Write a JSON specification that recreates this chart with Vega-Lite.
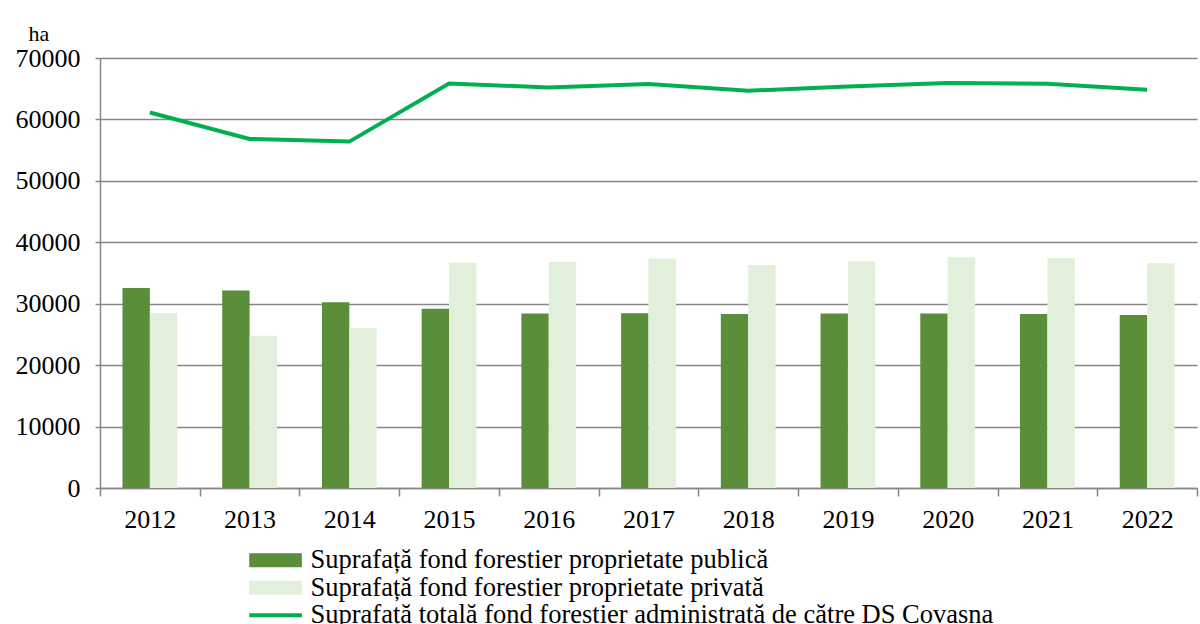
{
  "$schema": "https://vega.github.io/schema/vega-lite/v6.json",
  "width": 1097,
  "height": 430,
  "autosize": {"type": "none"},
  "padding": {"left": 100, "top": 58, "right": 3, "bottom": 136},
  "background": "#ffffff",
  "config": {
    "view": {"stroke": null},
    "font": "Liberation Serif",
    "legend": {"labelFont": "Liberation Serif", "labelFontSize": 26.5, "labelColor": "#000000"}
  },
  "data": {
    "values": [
      {"year": "2012", "series": "Suprafață fond forestier proprietate publică", "value": 32570},
      {"year": "2013", "series": "Suprafață fond forestier proprietate publică", "value": 32140},
      {"year": "2014", "series": "Suprafață fond forestier proprietate publică", "value": 30230},
      {"year": "2015", "series": "Suprafață fond forestier proprietate publică", "value": 29200},
      {"year": "2016", "series": "Suprafață fond forestier proprietate publică", "value": 28390},
      {"year": "2017", "series": "Suprafață fond forestier proprietate publică", "value": 28440},
      {"year": "2018", "series": "Suprafață fond forestier proprietate publică", "value": 28330},
      {"year": "2019", "series": "Suprafață fond forestier proprietate publică", "value": 28390},
      {"year": "2020", "series": "Suprafață fond forestier proprietate publică", "value": 28390},
      {"year": "2021", "series": "Suprafață fond forestier proprietate publică", "value": 28330},
      {"year": "2022", "series": "Suprafață fond forestier proprietate publică", "value": 28160},
      {"year": "2012", "series": "Suprafață fond forestier proprietate privată", "value": 28490},
      {"year": "2013", "series": "Suprafață fond forestier proprietate privată", "value": 24800},
      {"year": "2014", "series": "Suprafață fond forestier proprietate privată", "value": 26040},
      {"year": "2015", "series": "Suprafață fond forestier proprietate privată", "value": 36650},
      {"year": "2016", "series": "Suprafață fond forestier proprietate privată", "value": 36810},
      {"year": "2017", "series": "Suprafață fond forestier proprietate privată", "value": 37360},
      {"year": "2018", "series": "Suprafață fond forestier proprietate privată", "value": 36320},
      {"year": "2019", "series": "Suprafață fond forestier proprietate privată", "value": 36920},
      {"year": "2020", "series": "Suprafață fond forestier proprietate privată", "value": 37570},
      {"year": "2021", "series": "Suprafață fond forestier proprietate privată", "value": 37460},
      {"year": "2022", "series": "Suprafață fond forestier proprietate privată", "value": 36600},
      {"year": "2012", "series": "Suprafață totală fond forestier administrată de către DS Covasna", "value": 61120},
      {"year": "2013", "series": "Suprafață totală fond forestier administrată de către DS Covasna", "value": 56830},
      {"year": "2014", "series": "Suprafață totală fond forestier administrată de către DS Covasna", "value": 56390},
      {"year": "2015", "series": "Suprafață totală fond forestier administrată de către DS Covasna", "value": 65850},
      {"year": "2016", "series": "Suprafață totală fond forestier administrată de către DS Covasna", "value": 65200},
      {"year": "2017", "series": "Suprafață totală fond forestier administrată de către DS Covasna", "value": 65750},
      {"year": "2018", "series": "Suprafață totală fond forestier administrată de către DS Covasna", "value": 64660},
      {"year": "2019", "series": "Suprafață totală fond forestier administrată de către DS Covasna", "value": 65360},
      {"year": "2020", "series": "Suprafață totală fond forestier administrată de către DS Covasna", "value": 65910},
      {"year": "2021", "series": "Suprafață totală fond forestier administrată de către DS Covasna", "value": 65800},
      {"year": "2022", "series": "Suprafață totală fond forestier administrată de către DS Covasna", "value": 64820}
    ]
  },
  "encoding": {
    "x": {
      "field": "year",
      "type": "nominal",
      "scale": {"paddingInner": 0, "paddingOuter": 0},
      "axis": {
        "title": null,
        "labelAngle": 0,
        "labelFont": "Liberation Serif",
        "labelFontSize": 26,
        "labelColor": "#000000",
        "labelPadding": 10,
        "tickBand": "extent",
        "tickSize": 8,
        "tickColor": "#868686",
        "tickWidth": 1.5,
        "domainColor": "#868686",
        "domainWidth": 1.5,
        "grid": false
      }
    },
    "y": {
      "field": "value",
      "type": "quantitative",
      "scale": {"domain": [0, 70000], "nice": false},
      "axis": {
        "title": "ha",
        "titleAngle": 0,
        "titleAlign": "left",
        "titleBaseline": "alphabetic",
        "titleX": -72,
        "titleY": -18,
        "titleFont": "Liberation Serif",
        "titleFontSize": 22,
        "titleFontWeight": "normal",
        "titleColor": "#000000",
        "values": [0, 10000, 20000, 30000, 40000, 50000, 60000, 70000],
        "format": "d",
        "labelFont": "Liberation Serif",
        "labelFontSize": 26,
        "labelColor": "#000000",
        "labelPadding": 15,
        "tickSize": 5,
        "tickColor": "#868686",
        "tickWidth": 1.5,
        "domainColor": "#868686",
        "domainWidth": 1.5,
        "grid": true,
        "gridColor": "#868686",
        "gridWidth": 1.5
      }
    },
    "color": {
      "field": "series",
      "type": "nominal",
      "scale": {
        "domain": [
          "Suprafață fond forestier proprietate publică",
          "Suprafață fond forestier proprietate privată",
          "Suprafață totală fond forestier administrată de către DS Covasna"
        ],
        "range": ["#5B8E3A", "#E2EFDA", "#00B050"]
      },
      "legend": {
        "title": null,
        "orient": "none",
        "legendX": 162.3,
        "legendY": 489,
        "padding": 0,
        "symbolSize": 196,
        "symbolStrokeWidth": 0,
        "labelFont": "Liberation Serif",
        "labelFontSize": 26.5,
        "labelColor": "#000000",
        "labelOffset": 21.7,
        "labelLimit": 1000,
        "rowPadding": 0.5,
        "encode": {
          "symbols": {
            "update": {
              "shape": {"signal": "datum.index === 2 ? 'M-3.76,0H3.76' : 'M-3.76,-1H3.76V1H-3.76Z'"},
              "fill": {"signal": "datum.index === 0 ? '#5B8E3A' : datum.index === 1 ? '#E2EFDA' : 'transparent'"},
              "stroke": {"value": "#00B050"},
              "strokeWidth": {"signal": "datum.index === 2 ? 4 : 0"},
              "opacity": {"value": 1}
            }
          }
        }
      }
    }
  },
  "layer": [
    {
      "transform": [{"filter": "datum.series !== 'Suprafață totală fond forestier administrată de către DS Covasna'"}],
      "mark": {"type": "bar"},
      "encoding": {
        "xOffset": {
          "field": "series",
          "type": "nominal",
          "scale": {
            "domain": [
              "Suprafață fond forestier proprietate publică",
              "Suprafață fond forestier proprietate privată"
            ],
            "paddingInner": 0,
            "paddingOuter": 0.82
          }
        }
      }
    },
    {
      "transform": [{"filter": "datum.series === 'Suprafață totală fond forestier administrată de către DS Covasna'"}],
      "mark": {"type": "line", "strokeWidth": 4},
      "encoding": {}
    }
  ]
}
